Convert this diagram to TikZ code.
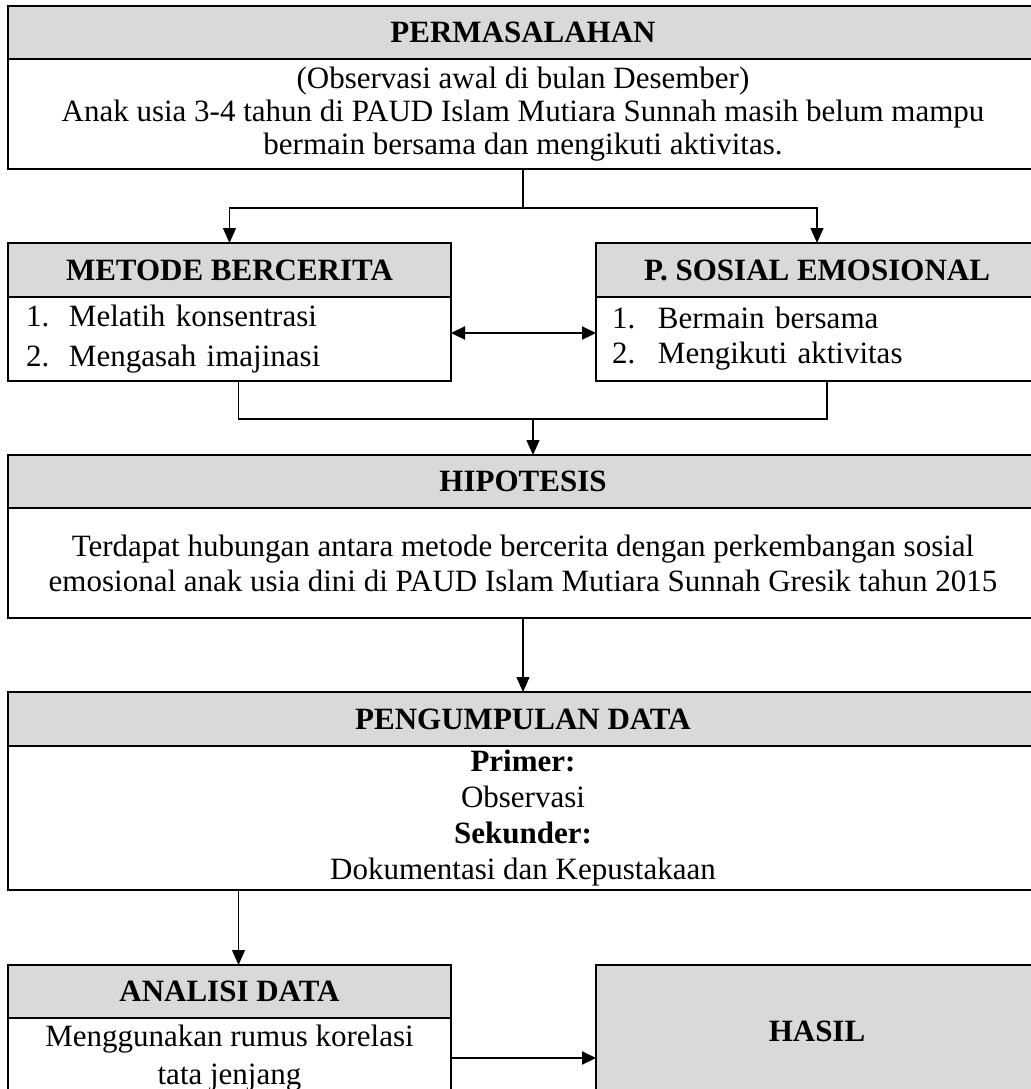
\documentclass[tikz,border=0pt]{standalone}
\usepackage{fontspec}
\setmainfont{Liberation Serif}
\usetikzlibrary{arrows.meta,positioning,calc}
\definecolor{headgray}{RGB}{217,217,217}
\newcommand{\numitem}[3]{\makebox[#1][l]{#2}#3}

\begin{document}
\begin{tikzpicture}[x=0.5pt,y=-0.5pt,
  txt/.style={font=\fontsize{15.5}{#1}\selectfont},
  head/.style={draw,line width=1.3pt,fill=headgray,anchor=north west,outer sep=0pt,inner sep=0pt,
    minimum height=26.5pt,font=\fontsize{15.5}{17.5}\selectfont\bfseries},
  body/.style={draw,line width=1.3pt,fill=white,align=center,outer sep=0pt,inner sep=0pt},
  line/.style={line width=0.6pt},
  arr/.style={line width=0.6pt,-{Triangle[length=7.5pt,width=6.5pt]}},
  bigarr/.style={line width=1.1pt,-{Triangle[length=7pt,width=6.5pt]}},
  dblarr/.style={line width=1.1pt,{Triangle[length=7pt,width=6.5pt]}-{Triangle[length=7pt,width=6.5pt]}}]
\useasboundingbox (0,0) rectangle (1031,1089);
\clip (0,0) rectangle (1031,1089);
\fill[white] (0,0) rectangle (1031,1089);
% permasalahan
\node[head,minimum width=515pt] (permhead) at (8,6) {PERMASALAHAN};
\node[body,txt=16.5pt,minimum width=515pt,minimum height=55pt,below=0pt of permhead] (permbody)
  {(Observasi awal di bulan Desember)\\ Anak usia 3-4 tahun di PAUD Islam Mutiara Sunnah masih belum mampu\\ bermain bersama dan mengikuti aktivitas.};
% metode dan sosial emosional
\node[head,minimum width=221.5pt,minimum height=27pt] (metodehead) at (8,243) {METODE BERCERITA};
\node[body,txt=17.5pt,text width=203.5pt,inner xsep=9pt,align=left,minimum height=42pt,below=0pt of metodehead] (metodebody)
  {\numitem{21.5pt}{1.}{Melatih konsentrasi}\\[2.5pt] \numitem{21.5pt}{2.}{Mengasah imajinasi}};
\node[head,minimum width=221pt,minimum height=27pt] (sosialhead) at (596,243) {P. SOSIAL EMOSIONAL};
\node[body,txt=17.5pt,text width=205pt,inner xsep=8pt,align=left,minimum height=42pt,below=0pt of sosialhead] (sosialbody)
  {\numitem{23pt}{1.}{Bermain bersama}\\ \numitem{23pt}{2.}{Mengikuti aktivitas}};
% hipotesis
\node[head,minimum width=515pt] (hipohead) at (8,455) {HIPOTESIS};
\node[body,txt=17.5pt,minimum width=515pt,minimum height=55pt,below=0pt of hipohead] (hipobody)
  {Terdapat hubungan antara metode bercerita dengan perkembangan sosial\\ emosional anak usia dini di PAUD Islam Mutiara Sunnah Gresik tahun 2015};
% pengumpulan data
\node[head,minimum width=515pt,minimum height=27pt] (kumpulhead) at (8,692) {PENGUMPULAN DATA};
\node[body,txt=18pt,minimum width=515pt,minimum height=72pt,below=0pt of kumpulhead] (kumpulbody)
  {\textbf{Primer:}\\ Observasi\\ \textbf{Sekunder:}\\ Dokumentasi dan Kepustakaan};
% analisi data dan hasil
\node[head,minimum width=221.5pt] (analisihead) at (8,965) {ANALISI DATA};
\node[body,txt=19pt,minimum width=221.5pt,minimum height=40pt,below=0pt of analisihead] (analisibody)
  {Menggunakan rumus korelasi\\ tata jenjang};
\node[head,minimum width=221pt,minimum height=66pt] (hasil) at (596,965) {HASIL};
% connectors
\coordinate (split) at ([yshift=-19.5pt]permbody.south);
\draw[line] (permbody.south) -- (split);
\draw[arr] (split) -| (metodehead.north);
\draw[arr] (split) -| (sosialhead.north);
\draw[dblarr] ([yshift=3pt]metodebody.east) -- ([yshift=3pt]sosialbody.west);
\coordinate (join) at ([xshift=5pt,yshift=18pt]hipohead.north);
\draw[line] ([xshift=4.5pt]metodebody.south) |- (join) -| ([xshift=5pt]sosialbody.south);
\draw[arr] (join) -- ([xshift=5pt]hipohead.north);
\draw[arr] (hipobody.south) -- (kumpulhead.north);
\coordinate (drop) at ([xshift=4.5pt]analisihead.north);
\draw[arr] (drop |- kumpulbody.south) -- (drop);
\draw[bigarr] (analisibody.east) -- (analisibody.east -| hasil.west);
\end{tikzpicture}
\end{document}
